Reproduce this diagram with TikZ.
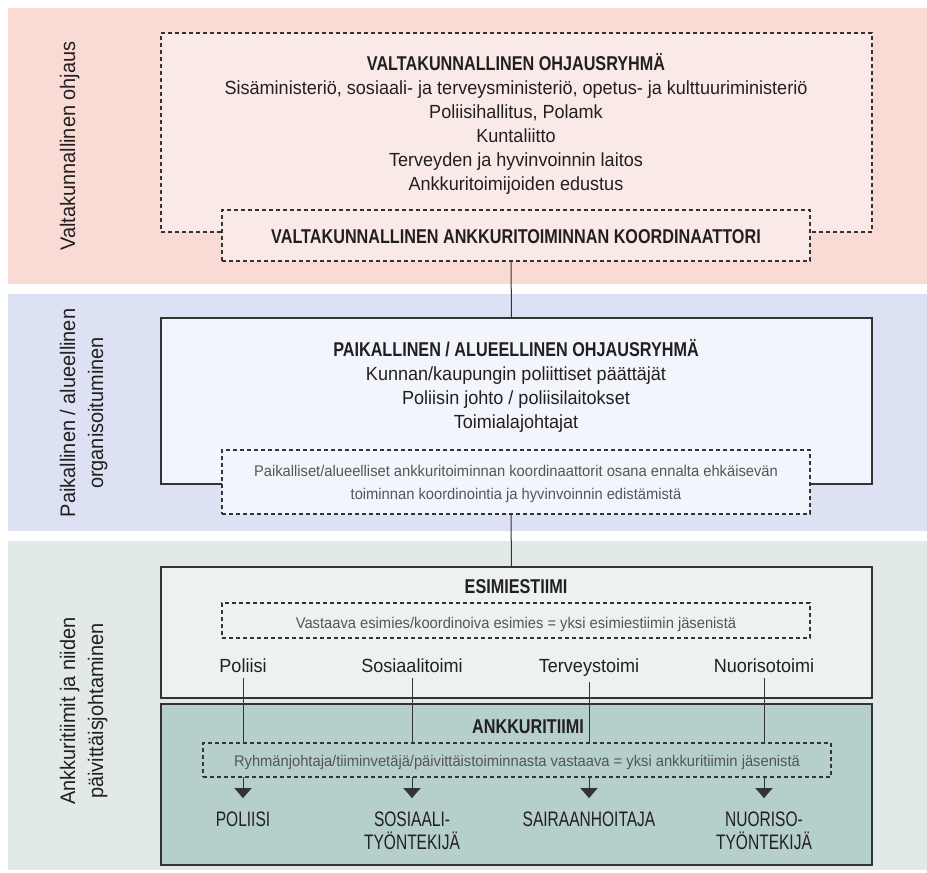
\documentclass[tikz,border=0pt]{standalone}
\usepackage{fontspec}
\setmainfont{Liberation Sans}[FakeStretch=0.95]
\newfontfamily\headfont{Liberation Sans}[FakeStretch=0.81]
\newfontfamily\rolefont{Liberation Sans}[FakeStretch=0.74]
\usetikzlibrary{positioning,arrows.meta}
\definecolor{pinkband}{HTML}{F9DAD4}
\definecolor{pinkbox}{HTML}{F9EAE8}
\definecolor{blueband}{HTML}{DCE2F3}
\definecolor{bluebox}{HTML}{F3F5FC}
\definecolor{greenband}{HTML}{E1EAE8}
\definecolor{greenbox}{HTML}{ECF2F0}
\definecolor{tealbox}{HTML}{B5CFCB}
\definecolor{linegray}{HTML}{333333}
\definecolor{ink}{HTML}{231F20}
\definecolor{notegray}{HTML}{555555}
\begin{document}
\begin{tikzpicture}[x=1pt,y=-1pt,
    boxframe/.style={draw=linegray,line width=1.2pt,inner sep=0,outer sep=0,anchor=north west},
    dashframe/.style={boxframe,dash pattern=on 4pt off 3pt,line width=1.1pt},
    bodytext/.style={font=\fontsize{19}{24}\selectfont,text=ink,align=center,anchor=base,inner sep=0},
    headtext/.style={font=\headfont\bfseries\fontsize{20}{24}\selectfont,text=ink,anchor=base,inner sep=0},
    notetext/.style={font=\fontsize{15.5}{23}\selectfont,text=notegray,align=center,anchor=base,inner sep=0},
    sidetext/.style={font=\fontsize{21}{28}\selectfont,text=ink,align=center,rotate=90,anchor=base,inner sep=0},
    rolelabel/.style={font=\rolefont\fontsize{21}{23}\selectfont,text=ink,align=center,anchor=base,inner sep=0},
    link/.style={draw=linegray,line width=1pt},
    down/.style={link,-{Triangle[width=17pt,length=10pt]}},
    ]
    \useasboundingbox (0,0) rectangle (927,873);

    % bands
    \fill[pinkband] (8,8) rectangle (927,284);
    \fill[blueband] (8,294) rectangle (927,531);
    \fill[greenband] (8,541) rectangle (927,870);

    \node[sidetext] (sideval) at (75,146) {Valtakunnallinen ohjaus};
    \node[sidetext] (sidepaik) at (103,413) {Paikallinen / alueellinen\\organisoituminen};
    \node[sidetext] (sideankk) at (103,711) {Ankkuritiimit ja niiden\\päivittäisjohtaminen};

    % valtakunnallinen taso
    \node[dashframe,fill=pinkbox,minimum width=711pt,minimum height=199pt] (ohjbox) at (161,33) {};
    \node[bodytext] (ohjtext) at (516,190) {{\headfont\bfseries\fontsize{20}{24}\selectfont VALTAKUNNALLINEN OHJAUSRYHMÄ}\\
        Sisäministeriö, sosiaali- ja terveysministeriö, opetus- ja kulttuuriministeriö\\
        Poliisihallitus, Polamk\\
        Kuntaliitto\\
        Terveyden ja hyvinvoinnin laitos\\
        Ankkuritoimijoiden edustus};
    \node[dashframe,fill=pinkbox,minimum width=588pt,minimum height=51pt] (koordbox) at (222,210) {};
    \node[headtext] (koordtext) at (516,243) {VALTAKUNNALLINEN ANKKURITOIMINNAN KOORDINAATTORI};

    % paikallinen taso
    \node[boxframe,fill=bluebox,minimum width=711pt,minimum height=166pt] (paikbox) at (161,318) {};
    \node[bodytext] (paiktext) at (516,428) {{\headfont\bfseries\fontsize{20}{24}\selectfont PAIKALLINEN / ALUEELLINEN OHJAUSRYHMÄ}\\
        Kunnan/kaupungin poliittiset päättäjät\\
        Poliisin johto / poliisilaitokset\\
        Toimialajohtajat};
    \node[dashframe,fill=bluebox,minimum width=588pt,minimum height=64pt] (paiknote) at (222,450) {};
    \node[notetext] (paiknotetext) at (516,499) {Paikalliset/alueelliset ankkuritoiminnan koordinaattorit osana ennalta ehkäisevän\\
        toiminnan koordinointia ja hyvinvoinnin edistämistä};

    % esimiestiimi
    \node[boxframe,fill=greenbox,minimum width=711pt,minimum height=131pt] (esimbox) at (161,567) {};
    \node[headtext] (esimtitle) at (516,593) {ESIMIESTIIMI};
    \node[dashframe,minimum width=588pt,minimum height=35pt] (esimnote) at (222,603) {};
    \node[notetext] (esimnotetext) at (516,628) {Vastaava esimies/koordinoiva esimies = yksi esimiestiimin jäsenistä};
    \node[bodytext] (colpol) at (243,672) {Poliisi};
    \node[bodytext] (colsos) at (412,672) {Sosiaalitoimi};
    \node[bodytext] (colter) at (589,672) {Terveystoimi};
    \node[bodytext] (colnuo) at (764,672) {Nuorisotoimi};

    % ankkuritiimi
    \node[boxframe,fill=tealbox,minimum width=711pt,minimum height=161pt] (ankkbox) at (161,704) {};
    \node[headtext] (ankktitle) at (528,733) {ANKKURITIIMI};
    \node[dashframe,minimum width=628pt,minimum height=34pt] (ankknote) at (203,743) {};
    \node[notetext] (ankknotetext) at (517,766) {Ryhmänjohtaja/tiiminvetäjä/päivittäistoiminnasta vastaava = yksi ankkuritiimin jäsenistä};
    \node[rolelabel] (rolepol) at (243,826) {POLIISI};
    \node[rolelabel] (rolesos) at (412,849) {SOSIAALI-\\TYÖNTEKIJÄ};
    \node[rolelabel] (roleter) at (589,826) {SAIRAANHOITAJA};
    \node[rolelabel] (rolenuo) at (764,849) {NUORISO-\\TYÖNTEKIJÄ};

    % connectors
    \draw[link] ([xshift=-5pt]koordbox.south) -- ([xshift=-5pt]paikbox.north);
    \draw[link] ([xshift=-5pt]paiknote.south) -- ([xshift=-5pt]esimbox.north);
    \foreach \c in {colpol,colsos,colter,colnuo} {
        \draw[link,shorten <=6pt] (\c.south) -- (\c |- ankknote.north);
        \draw[down,shorten >=13pt] (\c |- ankknote.south) -- (\c |- rolepol.north);
    }
\end{tikzpicture}
\end{document}
